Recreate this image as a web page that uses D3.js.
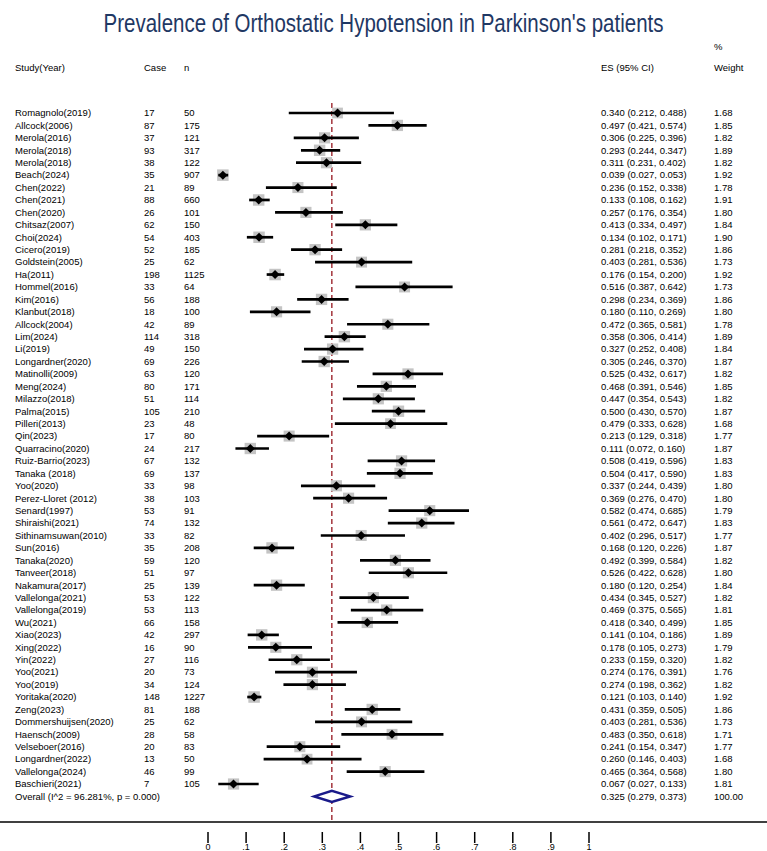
<!DOCTYPE html>
<html>
<head>
<meta charset="utf-8">
<script src="https://cdn.jsdelivr.net/npm/d3@7"></script>
<style>
  body { margin: 0; background: #fff; }
  text { font-family: "Liberation Sans", Arial, sans-serif; }
</style>
</head>
<body>
<div id="chart"></div>
<script>
const svgWidth = 767
const svgHeight = 851

// study labels
const studies = ["Romagnolo(2019)","Allcock(2006)","Merola(2016)","Merola(2018)","Merola(2018)","Beach(2024)",
  "Chen(2022)","Chen(2021)","Chen(2020)","Chitsaz(2007)","Choi(2024)","Cicero(2019)","Goldstein(2005)",
  "Ha(2011)","Hommel(2016)","Kim(2016)","Klanbut(2018)","Allcock(2004)","Lim(2024)","Li(2019)",
  "Longardner(2020)","Matinolli(2009)","Meng(2024)","Milazzo(2018)","Palma(2015)","Pilleri(2013)",
  "Qin(2023)","Quarracino(2020)","Ruiz-Barrio(2023)","Tanaka (2018)","Yoo(2020)","Perez-Lloret (2012)",
  "Senard(1997)","Shiraishi(2021)","Sithinamsuwan(2010)","Sun(2016)","Tanaka(2020)","Tanveer(2018)",
  "Nakamura(2017)","Vallelonga(2021)","Vallelonga(2019)","Wu(2021)","Xiao(2023)","Xing(2022)",
  "Yin(2022)","Yoo(2021)","Yoo(2019)","Yoritaka(2020)","Zeng(2023)","Dommershuijsen(2020)",
  "Haensch(2009)","Velseboer(2016)","Longardner(2022)","Vallelonga(2024)","Baschieri(2021)"]
const cases = [17,87,37,93,38,35,21,88,26,62,54,52,25,198,33,56,18,42,114,49,69,63,80,51,105,23,17,24,
  67,69,33,38,53,74,33,35,59,51,25,53,53,66,42,16,27,20,34,148,81,25,28,20,13,46,7]
const totals = [50,175,121,317,122,907,89,660,101,150,403,185,62,1125,64,188,100,89,318,150,226,120,171,
  114,210,48,80,217,132,137,98,103,91,132,82,208,120,97,139,122,113,158,297,90,116,73,124,1227,188,62,
  58,83,50,99,105]
const es = [0.340,0.497,0.306,0.293,0.311,0.039,0.236,0.133,0.257,0.413,0.134,0.281,0.403,0.176,0.516,
  0.298,0.180,0.472,0.358,0.327,0.305,0.525,0.468,0.447,0.500,0.479,0.213,0.111,0.508,0.504,0.337,0.369,
  0.582,0.561,0.402,0.168,0.492,0.526,0.180,0.434,0.469,0.418,0.141,0.178,0.233,0.274,0.274,0.121,0.431,
  0.403,0.483,0.241,0.260,0.465,0.067]
const lower = [0.212,0.421,0.225,0.244,0.231,0.027,0.152,0.108,0.176,0.334,0.102,0.218,0.281,0.154,0.387,
  0.234,0.110,0.365,0.306,0.252,0.246,0.432,0.391,0.354,0.430,0.333,0.129,0.072,0.419,0.417,0.244,0.276,
  0.474,0.472,0.296,0.120,0.399,0.422,0.120,0.345,0.375,0.340,0.104,0.105,0.159,0.176,0.198,0.103,0.359,
  0.281,0.350,0.154,0.146,0.364,0.027]
const upper = [0.488,0.574,0.396,0.347,0.402,0.053,0.338,0.162,0.354,0.497,0.171,0.352,0.536,0.200,0.642,
  0.369,0.269,0.581,0.414,0.408,0.370,0.617,0.546,0.543,0.570,0.628,0.318,0.160,0.596,0.590,0.439,0.470,
  0.685,0.647,0.517,0.226,0.584,0.628,0.254,0.527,0.565,0.499,0.186,0.273,0.320,0.391,0.362,0.140,0.505,
  0.536,0.618,0.347,0.403,0.568,0.133]
const weights = [1.68,1.85,1.82,1.89,1.82,1.92,1.78,1.91,1.80,1.84,1.90,1.86,1.73,1.92,1.73,1.86,1.80,1.78,
  1.89,1.84,1.87,1.82,1.85,1.82,1.87,1.68,1.77,1.87,1.83,1.83,1.80,1.80,1.79,1.83,1.77,1.87,1.82,1.80,
  1.84,1.82,1.81,1.85,1.89,1.79,1.82,1.76,1.82,1.92,1.86,1.73,1.71,1.77,1.68,1.80,1.81]

const overall = {label: "Overall  (I^2 = 96.281%, p = 0.000)", es: 0.325, lo: 0.279, hi: 0.373, weight: "100.00"}
const tickValues = [0,0.1,0.2,0.3,0.4,0.5,0.6,0.7,0.8,0.9,1]
const tickLabels = ["0",".1",".2",".3",".4",".5",".6",".7",".8",".9","1"]

const rows = studies.map((s, i) => ({study: s, cases: cases[i], n: totals[i],
  es: es[i], lo: lower[i], hi: upper[i], w: weights[i]}))

const f3 = d3.format(".3f")
const f2 = d3.format(".2f")
const fs = 9.5

const x = d3.scaleLinear().domain([0, 1]).range([208, 589])
const y = d3.scaleLinear().domain([0, rows.length - 1]).range([113, 784])
const axisY = 822

const svg = d3.select("#chart").append("svg")
  .attr("width", svgWidth)
  .attr("height", svgHeight)

// title (narrow face, scaled horizontally so it keeps the reference width)
svg.append("g")
  .attr("transform", `translate(${svgWidth / 2},32) scale(0.82,1)`)
  .append("text")
  .attr("text-anchor", "middle")
  .attr("font-size", 25)
  .attr("fill", "#1f3864")
  .text("Prevalence of Orthostatic Hypotension in Parkinson's patients")

// header
const header = svg.append("g").attr("font-size", fs).attr("fill", "#000")
header.append("text").attr("x", 15).attr("y", 71).text("Study(Year)")
header.append("text").attr("x", 144).attr("y", 71).text("Case")
header.append("text").attr("x", 184).attr("y", 71).text("n")
header.append("text").attr("x", 601).attr("y", 71).text("ES (95% CI)")
header.append("text").attr("x", 714).attr("y", 50).text("%")
header.append("text").attr("x", 714).attr("y", 71).text("Weight")

// dashed line at overall estimate
svg.append("line")
  .attr("x1", x(overall.es)).attr("x2", x(overall.es))
  .attr("y1", 103).attr("y2", axisY)
  .attr("stroke", "#a3343c")
  .attr("stroke-width", 1.5)
  .attr("stroke-dasharray", "5,3")

const row = svg.append("g").selectAll("g")
  .data(rows)
  .enter().append("g")
  .attr("transform", (d, i) => `translate(0,${y(i)})`)

row.append("text").attr("x", 15).attr("dy", "0.35em").attr("font-size", fs).text(d => d.study)
row.append("text").attr("x", 144).attr("dy", "0.35em").attr("font-size", fs).text(d => d.cases)
row.append("text").attr("x", 184).attr("dy", "0.35em").attr("font-size", fs).text(d => d.n)
row.append("text").attr("x", 601).attr("dy", "0.35em").attr("font-size", fs)
  .text(d => `${f3(d.es)} (${f3(d.lo)}, ${f3(d.hi)})`)
row.append("text").attr("x", 714).attr("dy", "0.35em").attr("font-size", fs).text(d => f2(d.w))

// weight boxes
const side = w => 8.3 * Math.sqrt(w)
row.append("rect")
  .attr("x", d => x(d.es) - side(d.w) / 2)
  .attr("y", d => -side(d.w) / 2)
  .attr("width", d => side(d.w))
  .attr("height", d => side(d.w))
  .attr("fill", "#c4c4c4")

row.append("line")
  .attr("x1", d => x(d.lo)).attr("x2", d => x(d.hi))
  .attr("stroke", "#000").attr("stroke-width", 2.7)

row.append("path")
  .attr("d", d => `M${x(d.es) - 4.5},0L${x(d.es)},-4.5L${x(d.es) + 4.5},0L${x(d.es)},4.5Z`)
  .attr("fill", "#000")

// overall
const oy = y(rows.length - 1) + 12.4
const ov = svg.append("g").attr("transform", `translate(0,${oy})`)
ov.append("text").attr("x", 15).attr("dy", "0.35em").attr("font-size", fs).text(overall.label)
ov.append("text").attr("x", 601).attr("dy", "0.35em").attr("font-size", fs)
  .text(`${f3(overall.es)} (${f3(overall.lo)}, ${f3(overall.hi)})`)
ov.append("text").attr("x", 714).attr("dy", "0.35em").attr("font-size", fs).text(overall.weight)
ov.append("path")
  .attr("d", `M${x(overall.lo)},0L${x(overall.es)},-5.5L${x(overall.hi)},0L${x(overall.es)},5.5Z`)
  .attr("fill", "#fff")
  .attr("stroke", "#1a1a8a")
  .attr("stroke-width", 2.5)

// axis
svg.append("line")
  .attr("x1", 0).attr("x2", svgWidth)
  .attr("y1", axisY).attr("y2", axisY)
  .attr("stroke", "#000").attr("stroke-width", 1.5)

const tick = svg.append("g").selectAll("g")
  .data(tickValues)
  .enter().append("g")
  .attr("transform", d => `translate(${x(d)},0)`)
tick.append("line")
  .attr("y1", axisY + 10).attr("y2", axisY + 21)
  .attr("stroke", "#000").attr("stroke-width", 1.5)
tick.append("text")
  .attr("y", 850)
  .attr("text-anchor", "middle")
  .attr("font-size", 9)
  .text((d, i) => tickLabels[i])
</script>
</body>
</html>
